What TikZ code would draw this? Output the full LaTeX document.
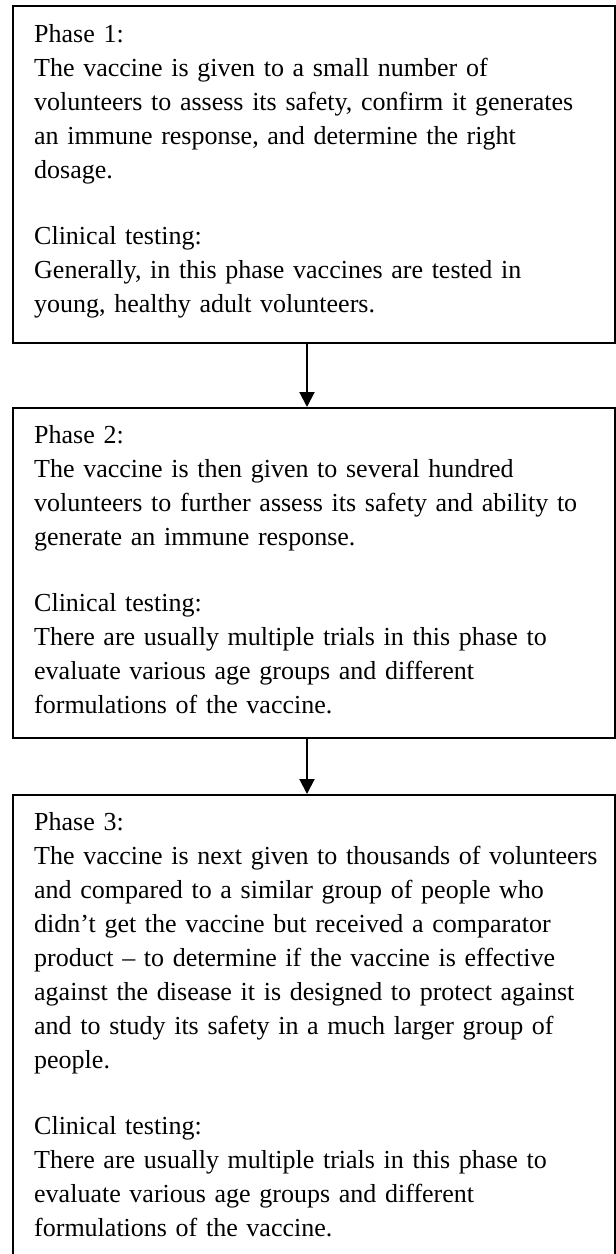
\documentclass[tikz,border=0pt]{standalone}
\usepackage{fontspec}
\setmainfont{Liberation Serif}
\usetikzlibrary{arrows.meta}
\tikzset{
  phasebox/.style={draw=black, line width=2pt, rectangle, minimum width=602pt, inner sep=0pt},
  phasetext/.style={anchor=base west, inner sep=0pt, text width=578pt, align=left,
    font=\fontsize{26}{34}\selectfont},
  flow/.style={line width=2pt, -{Triangle[width=15pt,length=15pt]}}
}
\newcommand{\pgap}{\\[32pt]}
\begin{document}
\begin{tikzpicture}[x=1pt, y=-1pt]
  \clip (0,0) rectangle (616,1254);
  \fill[white] (0,0) rectangle (616,1254);

  % the three phase boxes
  \node[phasebox, minimum height=337pt] (p1) at (314,174.5) {};
  \node[phasebox, minimum height=330pt] (p2) at (314,573) {};
  \node[phasebox, minimum height=505pt] (p3) at (314,1047.5) {};

  % box texts
  \node[phasetext] (t1) at (34,42) {Phase 1:\\
    The vaccine is given to a small number of\\
    volunteers to assess its safety, confirm it generates\\
    an immune response, and determine the right\\
    dosage.\pgap
    Clinical testing:\\
    Generally, in this phase vaccines are tested in\\
    young, healthy adult volunteers.};

  \node[phasetext] (t2) at (34,443) {Phase 2:\\
    The vaccine is then given to several hundred\\
    volunteers to further assess its safety and ability to\\
    generate an immune response.\pgap
    Clinical testing:\\
    There are usually multiple trials in this phase to\\
    evaluate various age groups and different\\
    formulations of the vaccine.};

  \node[phasetext] (t3) at (34,830) {Phase 3:\\
    The vaccine is next given to thousands of volunteers\\
    and compared to a similar group of people who\\
    didn’t get the vaccine but received a comparator\\
    product – to determine if the vaccine is effective\\
    against the disease it is designed to protect against\\
    and to study its safety in a much larger group of\\
    people.\pgap
    Clinical testing:\\
    There are usually multiple trials in this phase to\\
    evaluate various age groups and different\\
    formulations of the vaccine.};

  % connectors between phases
  \draw[flow] ([xshift=-7pt]p1.south) -- ([xshift=-7pt]p2.north);
  \draw[flow] ([xshift=-7pt]p2.south) -- ([xshift=-7pt]p3.north);
\end{tikzpicture}
\end{document}
